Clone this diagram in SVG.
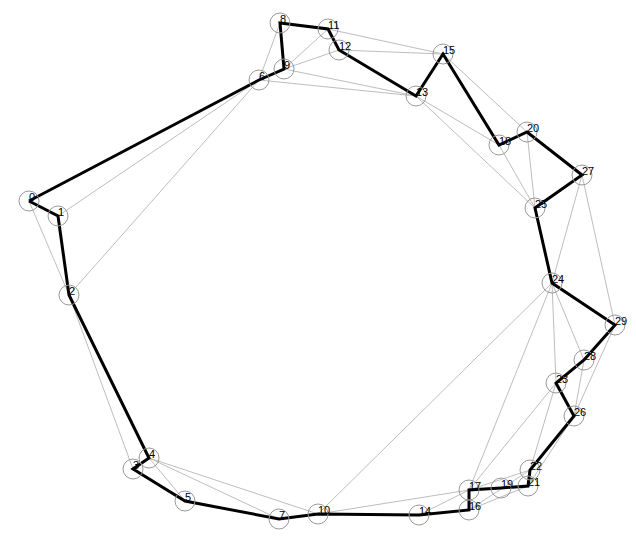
<svg xmlns="http://www.w3.org/2000/svg" width="636" height="536" viewBox="0 0 636 536">
<style>
.bg{fill:#fff}
.e{stroke:#bdbdbd;stroke-width:1;fill:none}
.t{stroke:#000;stroke-width:3;fill:none;stroke-linejoin:miter}
.n circle{fill:none;stroke:#999;stroke-width:1}
.n text{font-family:"Liberation Sans",Arial,sans-serif;font-size:11px;fill:#000}
</style>
<rect class="bg" width="636" height="536"/>
<g id="connectors">
<g id="thin">
<line class="e" x1="280" y1="23" x2="259" y2="80"/>
<line class="e" x1="328" y1="29" x2="284" y2="69"/>
<line class="e" x1="339" y1="50" x2="284" y2="69"/>
<line class="e" x1="284" y1="69" x2="416" y2="96"/>
<line class="e" x1="259" y1="80" x2="416" y2="96"/>
<line class="e" x1="328" y1="29" x2="443" y2="54"/>
<line class="e" x1="339" y1="50" x2="443" y2="54"/>
<line class="e" x1="416" y1="96" x2="499" y2="145"/>
<line class="e" x1="416" y1="96" x2="535" y2="208"/>
<line class="e" x1="443" y1="54" x2="527" y2="132"/>
<line class="e" x1="499" y1="145" x2="535" y2="208"/>
<line class="e" x1="527" y1="132" x2="535" y2="208"/>
<line class="e" x1="582" y1="175" x2="552" y2="283"/>
<line class="e" x1="582" y1="175" x2="615" y2="325"/>
<line class="e" x1="29" y1="201" x2="69" y2="295"/>
<line class="e" x1="58" y1="216" x2="259" y2="80"/>
<line class="e" x1="69" y1="295" x2="259" y2="80"/>
<line class="e" x1="69" y1="295" x2="133" y2="469"/>
<line class="e" x1="149" y1="458" x2="185" y2="501"/>
<line class="e" x1="149" y1="458" x2="279" y2="519"/>
<line class="e" x1="149" y1="458" x2="318" y2="514"/>
<line class="e" x1="318" y1="514" x2="552" y2="283"/>
<line class="e" x1="318" y1="514" x2="469" y2="490"/>
<line class="e" x1="419" y1="515" x2="469" y2="490"/>
<line class="e" x1="469" y1="490" x2="552" y2="283"/>
<line class="e" x1="469" y1="490" x2="556" y2="383"/>
<line class="e" x1="469" y1="490" x2="530" y2="470"/>
<line class="e" x1="469" y1="510" x2="528" y2="486"/>
<line class="e" x1="469" y1="510" x2="530" y2="470"/>
<line class="e" x1="530" y1="470" x2="556" y2="383"/>
<line class="e" x1="528" y1="486" x2="574" y2="416"/>
<line class="e" x1="552" y1="283" x2="556" y2="383"/>
<line class="e" x1="552" y1="283" x2="584" y2="360"/>
<line class="e" x1="615" y1="325" x2="574" y2="416"/>
<line class="e" x1="584" y1="360" x2="574" y2="416"/>
</g>
<polyline id="tour" class="t" points="29,201 259,80 284,69 280,23 328,29 339,50 416,96 443,54 499,145 527,132 582,175 535,208 552,283 615,325 584,360 556,383 574,416 530,470 528,486 501,488 469,490 469,510 419,515 318,514 279,519 185,501 133,469 149,458 69,295 58,216 29,201"/>
</g>
<g id="n0" class="n"><circle cx="29" cy="201" r="10"/><text x="29" y="201">0</text></g>
<g id="n1" class="n"><circle cx="58" cy="216" r="10"/><text x="58" y="216">1</text></g>
<g id="n2" class="n"><circle cx="69" cy="295" r="10"/><text x="69" y="295">2</text></g>
<g id="n3" class="n"><circle cx="133" cy="469" r="10"/><text x="133" y="469">3</text></g>
<g id="n4" class="n"><circle cx="149" cy="458" r="10"/><text x="149" y="458">4</text></g>
<g id="n5" class="n"><circle cx="185" cy="501" r="10"/><text x="185" y="501">5</text></g>
<g id="n6" class="n"><circle cx="259" cy="80" r="10"/><text x="259" y="80">6</text></g>
<g id="n7" class="n"><circle cx="279" cy="519" r="10"/><text x="279" y="519">7</text></g>
<g id="n8" class="n"><circle cx="280" cy="23" r="10"/><text x="280" y="23">8</text></g>
<g id="n9" class="n"><circle cx="284" cy="69" r="10"/><text x="284" y="69">9</text></g>
<g id="n10" class="n"><circle cx="318" cy="514" r="10"/><text x="318" y="514">10</text></g>
<g id="n11" class="n"><circle cx="328" cy="29" r="10"/><text x="328" y="29">11</text></g>
<g id="n12" class="n"><circle cx="339" cy="50" r="10"/><text x="339" y="50">12</text></g>
<g id="n13" class="n"><circle cx="416" cy="96" r="10"/><text x="416" y="96">13</text></g>
<g id="n14" class="n"><circle cx="419" cy="515" r="10"/><text x="419" y="515">14</text></g>
<g id="n15" class="n"><circle cx="443" cy="54" r="10"/><text x="443" y="54">15</text></g>
<g id="n16" class="n"><circle cx="469" cy="510" r="10"/><text x="469" y="510">16</text></g>
<g id="n17" class="n"><circle cx="469" cy="490" r="10"/><text x="469" y="490">17</text></g>
<g id="n18" class="n"><circle cx="499" cy="145" r="10"/><text x="499" y="145">18</text></g>
<g id="n19" class="n"><circle cx="501" cy="488" r="10"/><text x="501" y="488">19</text></g>
<g id="n20" class="n"><circle cx="527" cy="132" r="10"/><text x="527" y="132">20</text></g>
<g id="n21" class="n"><circle cx="528" cy="486" r="10"/><text x="528" y="486">21</text></g>
<g id="n22" class="n"><circle cx="530" cy="470" r="10"/><text x="530" y="470">22</text></g>
<g id="n23" class="n"><circle cx="556" cy="383" r="10"/><text x="556" y="383">23</text></g>
<g id="n24" class="n"><circle cx="552" cy="283" r="10"/><text x="552" y="283">24</text></g>
<g id="n25" class="n"><circle cx="535" cy="208" r="10"/><text x="535" y="208">25</text></g>
<g id="n26" class="n"><circle cx="574" cy="416" r="10"/><text x="574" y="416">26</text></g>
<g id="n27" class="n"><circle cx="582" cy="175" r="10"/><text x="582" y="175">27</text></g>
<g id="n28" class="n"><circle cx="584" cy="360" r="10"/><text x="584" y="360">28</text></g>
<g id="n29" class="n"><circle cx="615" cy="325" r="10"/><text x="615" y="325">29</text></g>
</svg>
